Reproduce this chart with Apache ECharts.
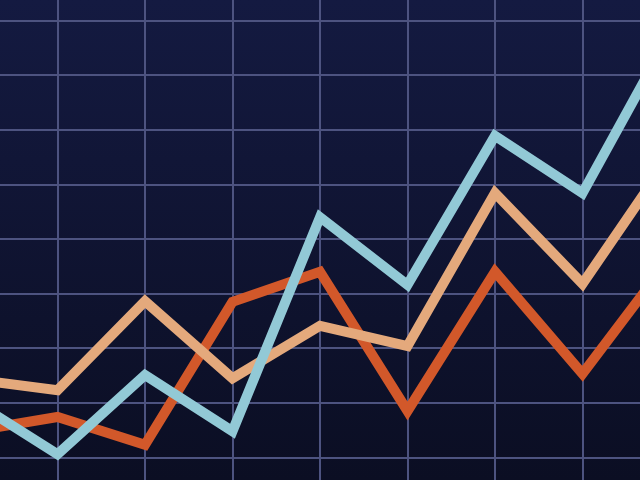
<!DOCTYPE html>
<html>
<head>
<meta charset="utf-8">
<script src="https://cdn.jsdelivr.net/npm/echarts@6/dist/echarts.min.js"></script>
<style>
  html, body { margin: 0; padding: 0; background: #0e1230; }
  .chart { width: 640px; height: 480px; }
</style>
</head>
<body>
<div class="chart"></div>
<script>
// nine points, the first and last sit just off the edges of the picture
const categories = ['1', '2', '3', '4', '5', '6', '7', '8', '9']
const blueValues = [20.7, 10.6, 25.1, 14.8, 54.0, 41.6, 68.9, 58.4, 87.5]
const peachValues = [24.4, 22.3, 38.6, 24.5, 34.1, 30.4, 58.4, 41.8, 65.2]
const orangeValues = [14.7, 17.4, 12.3, 38.5, 44.0, 18.5, 44.0, 25.3, 46.5]

const chartDom = document.querySelector('.chart')
const myChart = echarts.init(chartDom)

const lineDefault = {
  type: 'line',
  showSymbol: false,
  symbol: 'none',
  animation: false,
}

const option = {
  backgroundColor: new echarts.graphic.LinearGradient(0, 0, 0, 1, [
    { offset: 0, color: '#141a41' },
    { offset: 1, color: '#0b0e23' }
  ]),
  grid: {
    // the plot runs past the picture on every side
    outerBoundsMode: 'none',
    left: -30,
    right: -30,
    top: -34,
    height: 546
  },
  xAxis: {
    type: 'category',
    data: categories,
    boundaryGap: false,
    axisLine: { show: false },
    axisTick: { show: false },
    axisLabel: { show: false },
    splitLine: { show: true, lineStyle: { color: '#4d5380', width: 2 } }
  },
  yAxis: {
    type: 'value',
    min: 0,
    max: 100,
    interval: 10,
    axisLine: { show: false },
    axisTick: { show: false },
    axisLabel: { show: false },
    splitLine: { show: true, lineStyle: { color: '#4d5380', width: 2 } }
  },
  series: [
    {
      ...lineDefault,
      name: 'orange',
      data: orangeValues,
      lineStyle: { color: '#d2582a', width: 10, join: 'miter' }
    },
    {
      ...lineDefault,
      name: 'peach',
      data: peachValues,
      lineStyle: { color: '#e4a97c', width: 10, join: 'miter' }
    },
    {
      ...lineDefault,
      name: 'blue',
      data: blueValues,
      lineStyle: { color: '#92c9d6', width: 10, join: 'miter' }
    }
  ]
}

myChart.setOption(option)
</script>
</body>
</html>
